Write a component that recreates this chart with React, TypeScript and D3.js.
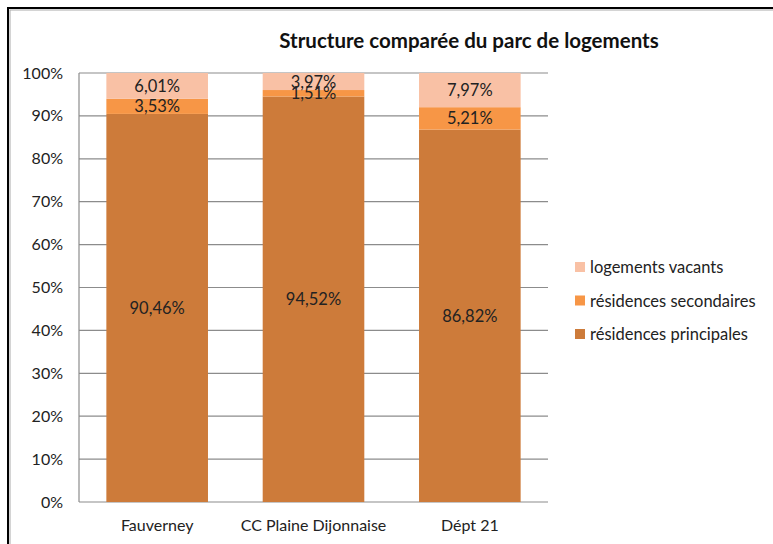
import React from "react";
import * as d3 from "d3";

const categories = ["Fauverney", "CC Plaine Dijonnaise", "Dépt 21"];
const principales = [90.46, 94.52, 86.82];
const secondaires = [3.53, 1.51, 5.21];
const vacants = [6.01, 3.97, 7.97];
const seriesNames = ["résidences principales", "résidences secondaires", "logements vacants"];
const colors = ["#CD7B3A", "#F79646", "#F9C1A5"];
const yTicks = [0, 10, 20, 30, 40, 50, 60, 70, 80, 90, 100];
const title = "Structure comparée du parc de logements";

const W = 773;
const H = 544;
const FONT = "Lato, 'Open Sans', sans-serif";

export default function App() {
  const x = d3.scaleBand<string>().domain(categories).range([79, 548]).paddingInner(0.35).paddingOuter(0.175);
  const y = d3.scaleLinear().domain([0, 100]).range([502, 73]);
  const data = [principales, secondaires, vacants];
  const stack = categories.map((c, i) => {
    let acc = 0;
    return data.map((s, k) => {
      const y0 = acc;
      acc += s[i];
      return { k, y0, y1: acc, v: s[i] };
    });
  });
  const fmt = (v: number) => v.toFixed(2).replace(".", ",") + "%";
  const legendOrder = [2, 1, 0];
  return (
    <svg width={W} height={H} style={{ position: "absolute", left: 0, top: 0, fontFamily: FONT }}>
      <rect x={0} y={0} width={W} height={H} fill="#fff" />
      <rect x={8} y={8} width={W + 20} height={H + 20} fill="none" stroke="#000" strokeWidth={2} />
      <rect x={10} y={10} width={W + 20} height={H + 20} fill="none" stroke="#aaa" strokeWidth={1} />
      <text x={469} y={48} textAnchor="middle" fontSize={20.5} fontWeight="bold" fill="#111">{title}</text>
      {yTicks.map((t) => (
        <g key={t}>
          <line x1={79} x2={548} y1={y(t)} y2={y(t)} stroke="#8c8c8c" strokeWidth={1.2} />
          <text x={63} y={y(t) + 5.5} textAnchor="end" fontSize={16} fill="#222">{t + "%"}</text>
        </g>
      ))}
      <line x1={79} x2={79} y1={y(0)} y2={y(100)} stroke="#8c8c8c" strokeWidth={1.2} />
      {stack.map((segs, i) => (
        <g key={categories[i]}>
          {segs.map((s) => (
            <rect key={s.k} x={x(categories[i])} width={x.bandwidth()} y={y(s.y1)} height={y(s.y0) - y(s.y1)} fill={colors[s.k]} />
          ))}
          {segs.map((s) => (
            <text key={"t" + s.k} x={(x(categories[i]) as number) + x.bandwidth() / 2} y={(y(s.y0) + y(s.y1)) / 2 + 6} textAnchor="middle" fontSize={16.5} fill="#222">{fmt(s.v)}</text>
          ))}
          <text x={(x(categories[i]) as number) + x.bandwidth() / 2} y={531} textAnchor="middle" fontSize={16} fill="#222">{categories[i]}</text>
        </g>
      ))}
      {legendOrder.map((k, j) => (
        <g key={k}>
          <rect x={575} y={262 + j * 33.5} width={10} height={10} fill={colors[k]} />
          <text x={590} y={273 + j * 33.5} fontSize={16.5} fill="#222">{seriesNames[k]}</text>
        </g>
      ))}
    </svg>
  );
}
